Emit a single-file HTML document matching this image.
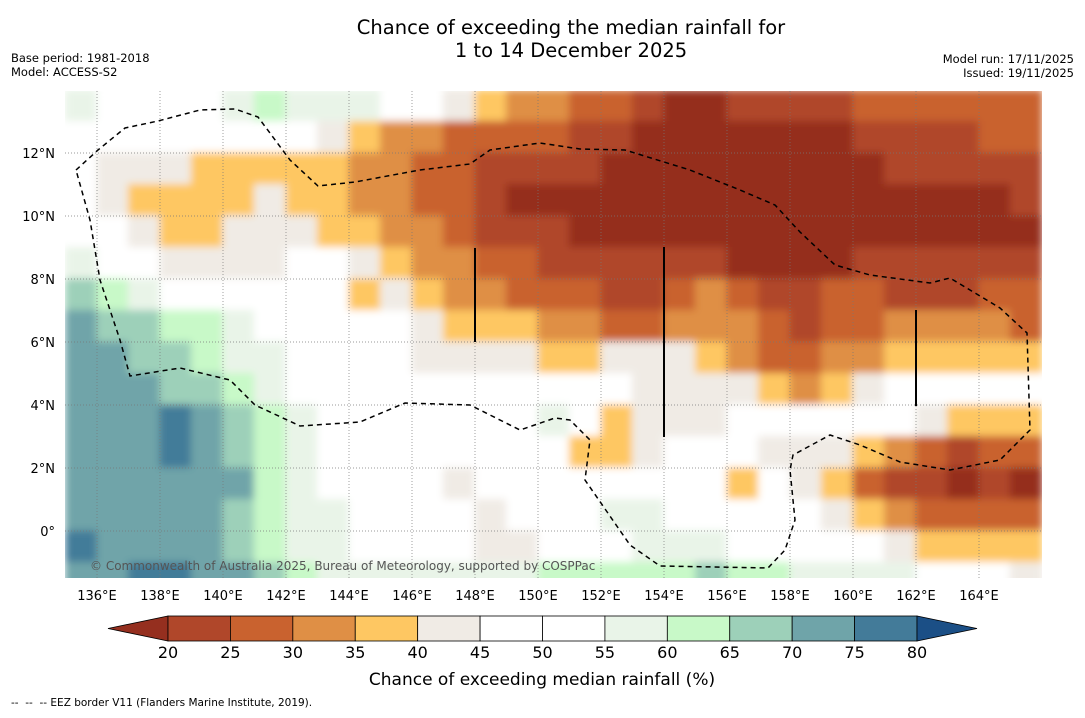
<!DOCTYPE html>
<html><head><meta charset="utf-8">
<style>
body{margin:0;background:#fff;font-family:"Liberation Sans",sans-serif;}
svg text{font-family:"DejaVu Sans","Liberation Sans",sans-serif;}
</style></head>
<body>
<svg id="chart" width="1085" height="713" viewBox="0 0 1085 713">
<rect width="1085" height="713" fill="#fff"/>
<text x="571" y="34" font-size="19.5" text-anchor="middle">Chance of exceeding the median rainfall for</text>
<text x="571" y="57" font-size="19.5" text-anchor="middle">1 to 14 December 2025</text>
<text x="11" y="62" font-size="11.5">Base period: 1981-2018</text>
<text x="11" y="76" font-size="11.5">Model: ACCESS-S2</text>
<text x="1074" y="63" font-size="11.5" text-anchor="end">Model run: 17/11/2025</text>
<text x="1074" y="77" font-size="11.5" text-anchor="end">Issued: 19/11/2025</text>
<defs>
<clipPath id="mapclip"><rect x="65" y="91" width="977" height="487"/></clipPath>
<filter id="soft" x="-5%" y="-5%" width="110%" height="110%"><feGaussianBlur stdDeviation="4"/></filter>
</defs>
<g id="map" clip-path="url(#mapclip)">
<rect x="65" y="91" width="977" height="487" fill="#fff"/>
<g id="cells" filter="url(#soft)"></g>
<g id="grid"></g>
<polyline fill="none" stroke="#000" stroke-width="1.5" stroke-dasharray="5,4"
points="76,170 98,150 125,128 158,121 200,110 235,109 258,117 290,160 318,186 355,182 420,170 470,164 490,150 540,143 580,149 625,150 690,170 740,190 775,205 800,232 835,265 870,275 930,283 950,278 1000,308 1027,333 1030,430 1000,460 950,470 900,462 860,445 830,435 793,455 790,470 795,520 785,550 768,568 660,566 630,545 585,480 590,440 570,420 555,418 520,430 470,405 405,403 360,422 300,426 255,405 230,380 180,368 130,376 120,340 100,280 90,220 76,170"/>
<line x1="475" y1="248" x2="475" y2="342" stroke="#000" stroke-width="2"/>
<line x1="664" y1="247" x2="664" y2="437" stroke="#000" stroke-width="2"/>
<line x1="916" y1="310" x2="916" y2="406" stroke="#000" stroke-width="2"/>
<text x="90" y="570" font-size="12" fill="#555">© Commonwealth of Australia 2025, Bureau of Meteorology, supported by COSPPac</text>
</g>
<g id="axes"></g>
<g id="colorbar"></g>
<text x="542" y="685" font-size="17" text-anchor="middle">Chance of exceeding median rainfall (%)</text>
<text x="11" y="706" font-size="10.5">--&#160;&#160;--&#160;&#160;-- EEZ border V11 (Flanders Marine Institute, 2019).</text>
</svg>
<script>
const lons = [135,136,137,138,139,140,141,142,143,144,145,146,147,148,149,150,151,152,153,154,155,156,157,158,159,160,161,162,163,164,165];
const lats = [14,13,12,11,10,9,8,7,6,5,4,3,2,1,0,-1];
const values = [
[57,50,50,50,50,57,62,57,57,57,50,50,42,37,32,32,27,27,22,15,15,22,22,22,22,27,27,27,27,27,27],
[50,50,50,50,50,50,50,50,42,37,32,32,27,27,27,27,22,22,15,15,15,15,15,15,15,22,22,22,22,27,27],
[50,42,42,42,37,37,37,37,37,32,32,27,27,22,22,22,22,15,15,15,15,15,15,15,15,15,22,22,22,22,22],
[50,42,37,37,37,37,42,37,37,32,32,27,27,22,15,15,15,15,15,15,15,15,15,15,15,15,15,15,15,15,22],
[50,50,42,37,37,42,42,42,37,37,32,32,27,22,22,22,15,15,15,15,15,15,15,15,15,15,15,15,15,15,15],
[57,50,50,42,42,42,42,50,50,42,37,32,32,27,27,22,22,22,22,22,22,15,15,15,15,22,22,22,22,22,22],
[67,62,57,50,50,50,50,50,50,37,42,37,32,32,27,27,27,22,22,27,32,27,22,22,27,27,22,22,22,27,27],
[72,67,67,62,62,57,50,50,50,50,50,42,37,37,37,32,32,27,27,32,32,32,27,22,27,27,32,32,32,32,27],
[72,72,67,67,62,57,57,50,50,50,50,42,42,42,42,37,37,42,42,42,37,32,27,27,32,32,37,37,37,37,37],
[72,72,72,67,67,62,57,50,50,50,50,50,50,50,50,50,50,50,42,42,42,42,37,32,37,42,50,50,50,50,50],
[72,72,72,77,72,67,62,57,50,50,50,50,50,50,50,57,50,37,42,42,42,50,50,50,50,50,50,42,37,37,37],
[72,72,72,77,72,67,62,57,50,50,50,50,50,50,50,50,37,37,42,50,50,50,42,42,42,37,32,27,22,27,27],
[72,72,72,72,72,72,62,57,50,50,50,50,42,50,50,50,50,50,50,50,50,37,50,42,37,27,22,22,15,22,15],
[72,72,72,72,72,67,62,57,57,50,50,50,50,42,50,50,50,57,57,50,50,50,50,50,42,37,32,27,27,27,27],
[77,72,72,72,72,67,62,57,57,50,50,50,50,42,42,50,50,50,57,57,57,50,50,50,50,50,42,37,37,37,37],
[72,72,77,77,72,72,67,62,57,57,57,57,57,57,57,62,62,62,62,62,67,62,62,57,57,57,57,50,50,50,42]
];
const binEdges = [20,25,30,35,40,45,50,55,60,65,70,75,80];
const binColors = ["#952f1f","#b0472a","#c9622f","#df8f45","#fec762","#f0ebe5","#ffffff","#ffffff","#e9f4e8","#c8f9c8","#9dd0b9","#6fa4a9","#437b99","#1b4f86"];
const lonTicks = [136,138,140,142,144,146,148,150,152,154,156,158,160,162,164];
const latTicks = [0,2,4,6,8,10,12];
const cbLabels = [20,25,30,35,40,45,50,55,60,65,70,75,80];

const NS="http://www.w3.org/2000/svg";
const PX=31.5;
function xOf(lon){return 97+(lon-136)*PX;}
function yOf(lat){return 531-lat*PX;}
function colorOf(v){let i=0;while(i<binEdges.length&&v>=binEdges[i])i++;return binColors[i];}
function mk(tag,attrs,parent){const e=document.createElementNS(NS,tag);for(const k in attrs)e.setAttribute(k,attrs[k]);parent.appendChild(e);return e;}

const cells=document.getElementById('cells');
values.forEach((row,r)=>{row.forEach((v,c)=>{
  const e=mk('rect',{x:xOf(lons[c])-0.5,y:yOf(lats[r])-0.5,width:PX+1,height:PX+1,fill:colorOf(v)},cells);
  
  
});});

const grid=document.getElementById('grid');
lonTicks.forEach(l=>{const e=mk('line',{x1:xOf(l),x2:xOf(l),y1:91,y2:578,stroke:'#777','stroke-width':0.7,'stroke-dasharray':'1,2'},grid);
  
  });
latTicks.forEach(l=>{const e=mk('line',{x1:65,x2:1042,y1:yOf(l),y2:yOf(l),stroke:'#777','stroke-width':0.7,'stroke-dasharray':'1,2'},grid);
  
  });

const axes=document.getElementById('axes');
lonTicks.forEach(l=>{const t=mk('text',{x:xOf(l),y:600,'font-size':13,'text-anchor':'middle'},axes);t.textContent=l+'°E';
  
  });
latTicks.forEach(l=>{const t=mk('text',{x:55,y:yOf(l)+5,'font-size':13,'text-anchor':'end'},axes);t.textContent=l===0?'0°':l+'°N';
  
  });

const cb=document.getElementById('colorbar');
const cbX0=168,cbX1=917,cbY=616,cbH=25,bw=(cbX1-cbX0)/12;
const tl=mk('polygon',{points:`108,${cbY+cbH/2} ${cbX0},${cbY} ${cbX0},${cbY+cbH}`,fill:binColors[0],stroke:'#000','stroke-width':0.8},cb);


for(let i=0;i<12;i++){const r=mk('rect',{x:cbX0+i*bw,y:cbY,width:bw,height:cbH,fill:binColors[i+1],stroke:'#000','stroke-width':0.8},cb);
  
  }
const tr=mk('polygon',{points:`977,${cbY+cbH/2} ${cbX1},${cbY} ${cbX1},${cbY+cbH}`,fill:binColors[13],stroke:'#000','stroke-width':0.8},cb);


cbLabels.forEach((v,i)=>{const t=mk('text',{x:cbX0+i*bw,y:658,'font-size':16,'text-anchor':'middle'},cb);t.textContent=v;
  
  });
</script>
</body></html>
